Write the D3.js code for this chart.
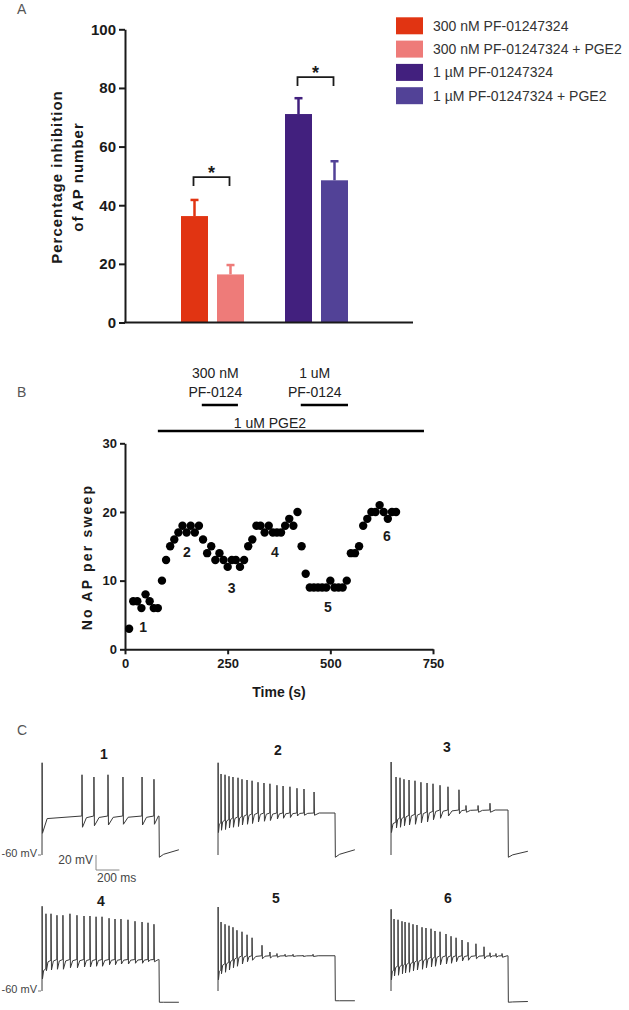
<!DOCTYPE html>
<html><head><meta charset="utf-8">
<script src="https://cdn.jsdelivr.net/npm/d3@7"></script>
<style>
body{margin:0;background:#fff}
svg{display:block}
text{font-family:"Liberation Sans",Arial,Helvetica,sans-serif}
</style>
</head><body>
<svg id="c" width="629" height="1010"></svg>
<script>
// ---------------- DATA ----------------
// Panel A
const barCategories = ["300 nM PF-01247324","300 nM PF-01247324 + PGE2","1 µM PF-01247324","1 µM PF-01247324 + PGE2"];
const barGroupOf = ["300 nM","300 nM","1 µM","1 µM"];
const barSubOf = ["drug","drug+PGE2","drug","drug+PGE2"];
const barGroups = ["300 nM","1 µM"];
const barValues = [36.3, 16.4, 71.1, 48.5];
const barErrors = [5.5, 3.2, 5.4, 6.5];
const barColors = ["#e13412","#ee7b79","#42207e","#524297"];
const barTicks = [0,20,40,60,80,100];
const sigGroups = ["300 nM","1 µM"];
const sigHeights = [49.6, 83.7];

// Panel B
const sweepTimes = [10,20,30,40,50,60,70,80,90,100,110,120,130,140,150,160,170,180,190,200,210,220,230,240,250,260,270,280,290,300,310,320,330,340,350,360,370,380,390,400,410,420,430,440,450,460,470,480,490,500,510,520,530,540,550,560,570,580,590,600,610,620,630,640,650,660];
const apCounts = [3,7,7,6,8,7,6,6,10,13,15,16,17,18,17,18,17,18,16,14,15,13,14,13,12,13,13,12,13,15,16,18,18,17,18,17,17,17,18,19,18,20,15,11,9,9,9,9,9,10,9,9,9,10,14,14,15,18,19,20,20,21,20,19,20,20];
const sweepTicks = [0,250,500,750];
const apTicks = [0,10,20,30];
const drugLabels = [["300 nM","PF-0124"],["1 uM","PF-0124"]];
const drugStart = [187, 428];
const drugEnd = [275, 543];
const drugLabelT = [220, 462];
const pgeLabel = "1 uM PGE2";
const pgeStart = 80, pgeEnd = 728, pgeLabelT = 353;
const pointLabels = ["1","2","3","4","5","6"];
const pointLabelT = [44, 151, 260, 365, 494, 638];
const pointLabelV = [3.2, 14.2, 8.9, 14.2, 6.2, 16.5];

// Panel C (times in ms after step onset, voltages in mV)
const traceNames = ["1","2","3","4","5","6"];
const traceSpikeTimes = [
  [342,444,564,692,855,957],
  [26,60,94,128,171,205,248,291,342,393,444,504,556,615,675,735,821],
  [43,77,111,154,205,256,308,359,419,487,581,641,744,846],
  [34,77,128,179,239,299,359,410,462,513,573,624,675,735,795,855,906,957],
  [26,60,94,128,162,205,248,291,376,444,504,573,641,726,812],
  [26,60,94,120,154,188,222,265,299,342,376,419,470,513,556,607,658,726,795,846,897,949]
];
const traceSpikePeaks = [
  [47,44,47,44,44,41],
  [48,47,45,44,43,41,40,39,37,36,35,33,32,31,29,28,24],
  [44,43,41,40,39,37,36,35,33,31,27,6,6,9],
  [43,43,41,41,43,41,40,40,39,39,37,36,36,35,33,32,31,29],
  [32,29,27,25,21,19,15,11,1,-8,-10,-11,-11,-12,-11],
  [36,35,33,32,31,29,28,25,24,23,20,19,16,13,11,8,5,3,-1,-9,-10,-10]
];
const traceTroughs = [
  [-23,-21,-20,-19,-20,-19],
  [-27,-26,-24,-23,-22,-20,-19,-18,-16,-15,-14,-12,-11,-10,-8,-7,-7],
  [-24,-23,-21,-20,-19,-17,-16,-13,-11,-8,-5,-3,-3,-3],
  [-33,-32,-31,-31,-29,-29,-28,-28,-27,-27,-25,-25,-24,-24,-23,-23,-21,-21],
  [-37,-35,-32,-29,-27,-24,-21,-19,-17,-16,-15,-14,-14,-14,-14],
  [-40,-39,-37,-36,-35,-33,-32,-31,-29,-28,-27,-25,-24,-23,-21,-20,-19,-17,-17,-15,-15,-15]
];
const traceInitPeak = [63,63,64,53,52,49];
const traceInitTrough = [-31,-30,-30,-44,-45,-45];
const tracePlateau = [-8,-4,0,-18,-13,-13];
const traceOffV = [-63,-63,-63,-75,-73,-75];
const traceTailV = [-53,-53,-55,-75,-73,-74];
const restingMV = -60;
const stepOffMs = 1000, traceEndMs = 1170;
const scaleBarMV = 20, scaleBarMs = 200;

// ---------------- DRAW ----------------
const svg = d3.select("#c");
const ink = "#1a1a1a";

function panelLabel(t, x, y){
  svg.append("text").attr("x",x).attr("y",y).attr("font-size",14).attr("fill","#555").text(t);
}
panelLabel("A",17,14);
panelLabel("B",17,397);
panelLabel("C",17,735);

// ===== Panel A =====
const yA = d3.scaleLinear().domain([0,100]).range([322.5,29.3]);
const gA = d3.scalePoint().domain(barGroups).range([212.5,316.5]);
const inner = d3.scaleBand().domain(["drug","drug+PGE2"]).range([-31.5,31.5]).paddingInner(0.25);
const bars = barValues.map((v,i)=>({v, e:barErrors[i], c:barColors[i], x:gA(barGroupOf[i])+inner(barSubOf[i])}));
const gBars = svg.append("g");
gBars.selectAll("rect").data(bars).join("rect")
  .attr("x",d=>d.x).attr("width",inner.bandwidth())
  .attr("y",d=>yA(d.v)).attr("height",d=>yA(0)-yA(d.v)).attr("fill",d=>d.c);
gBars.selectAll("line.err").data(bars).join("line").attr("class","err")
  .attr("x1",d=>d.x+inner.bandwidth()/2).attr("x2",d=>d.x+inner.bandwidth()/2)
  .attr("y1",d=>yA(d.v)).attr("y2",d=>yA(d.v+d.e)).attr("stroke",d=>d.c).attr("stroke-width",2.5);
gBars.selectAll("line.cap").data(bars).join("line").attr("class","cap")
  .attr("x1",d=>d.x+inner.bandwidth()/2-4).attr("x2",d=>d.x+inner.bandwidth()/2+4)
  .attr("y1",d=>yA(d.v+d.e)).attr("y2",d=>yA(d.v+d.e)).attr("stroke",d=>d.c).attr("stroke-width",2.5);

const axA = svg.append("g").attr("transform","translate(125,0)")
  .call(d3.axisLeft(yA).tickValues(barTicks).tickSize(6).tickSizeOuter(0).tickPadding(3));
axA.select(".domain").attr("stroke",ink).attr("stroke-width",2);
axA.selectAll(".tick line").attr("stroke",ink).attr("stroke-width",2);
axA.selectAll(".tick text").attr("font-size",15).attr("font-weight","bold").attr("fill",ink)
  .attr("font-family",'"Liberation Sans",Arial,sans-serif');
svg.append("line").attr("x1",124).attr("x2",413).attr("y1",yA(0)).attr("y2",yA(0)).attr("stroke",ink).attr("stroke-width",2);

const ylabA = svg.append("text").attr("transform","translate(57,177) rotate(-90)")
  .attr("text-anchor","middle").attr("font-size",15).attr("font-weight","bold").attr("letter-spacing",1).attr("fill",ink);
ylabA.append("tspan").attr("x",0).attr("dy","0.35em").text("Percentage inhibition");
ylabA.append("tspan").attr("x",0).attr("dy",21).text("of AP number");

// significance brackets
sigGroups.forEach((g,i)=>{
  const x1 = gA(g)+inner("drug")+inner.bandwidth()/2 - 1;
  const x2 = gA(g)+inner("drug+PGE2")+inner.bandwidth()/2 - 1;
  const y = yA(sigHeights[i]);
  svg.append("path").attr("d",`M${x1},${y+9}V${y}H${x2}V${y+9}`).attr("fill","none").attr("stroke",ink).attr("stroke-width",1.8);
  svg.append("text").attr("x",(x1+x2)/2).attr("y",y+2).attr("text-anchor","middle")
    .attr("font-size",18).attr("font-weight","bold").attr("fill",ink).text("*");
});

// legend
const leg = svg.append("g");
barCategories.forEach((c,i)=>{
  const cy = 25.8 + i*23.3;
  leg.append("rect").attr("x",396).attr("y",cy-8.5).attr("width",27).attr("height",17).attr("fill",barColors[i]);
  leg.append("text").attr("x",433).attr("y",cy).attr("dominant-baseline","central")
    .attr("font-size",14).attr("fill","#333").text(c);
});

// ===== Panel B =====
const xB = d3.scaleLinear().domain([0,750]).range([125,433]);
const yB = d3.scaleLinear().domain([0,30]).range([649.3,443.3]);
const axBx = svg.append("g").attr("transform",`translate(0,${yB(0)})`)
  .call(d3.axisBottom(xB).tickValues(sweepTicks).tickSize(5).tickSizeOuter(0).tickPadding(4));
const axBy = svg.append("g").attr("transform",`translate(${xB(0)},0)`)
  .call(d3.axisLeft(yB).tickValues(apTicks).tickSize(5).tickSizeOuter(0).tickPadding(3));
[axBx,axBy].forEach(a=>{
  a.select(".domain").attr("stroke",ink).attr("stroke-width",2);
  a.selectAll(".tick line").attr("stroke",ink).attr("stroke-width",2);
  a.selectAll(".tick text").attr("font-size",13).attr("font-weight","bold").attr("fill",ink)
    .attr("font-family",'"Liberation Sans",Arial,sans-serif');
});
svg.append("text").attr("x",279).attr("y",697).attr("text-anchor","middle").attr("font-size",14)
  .attr("font-weight","bold").attr("fill",ink).text("Time (s)");
svg.append("text").attr("transform","translate(87,557) rotate(-90)").attr("text-anchor","middle")
  .attr("dominant-baseline","central").attr("font-size",14).attr("font-weight","bold")
  .attr("letter-spacing",2.2).attr("fill",ink).text("No AP per sweep");

svg.append("g").selectAll("circle").data(sweepTimes).join("circle")
  .attr("cx",d=>xB(d)).attr("cy",(d,i)=>yB(apCounts[i])).attr("r",4.2).attr("fill","#000");

svg.append("g").selectAll("text").data(pointLabels).join("text")
  .attr("x",(d,i)=>xB(pointLabelT[i])).attr("y",(d,i)=>yB(pointLabelV[i]))
  .attr("text-anchor","middle").attr("dominant-baseline","central")
  .attr("font-size",14).attr("font-weight","bold").attr("fill",ink).text(d=>d);

drugLabels.forEach((lab,i)=>{
  svg.append("line").attr("x1",xB(drugStart[i])).attr("x2",xB(drugEnd[i])).attr("y1",405).attr("y2",405)
    .attr("stroke","#000").attr("stroke-width",2.5);
  lab.forEach((s,j)=>{
    svg.append("text").attr("x",xB(drugLabelT[i])).attr("y",373+j*19).attr("dominant-baseline","central")
      .attr("text-anchor","middle").attr("font-size",14).attr("fill","#222").text(s);
  });
});
svg.append("line").attr("x1",xB(pgeStart)).attr("x2",xB(pgeEnd)).attr("y1",431).attr("y2",431)
  .attr("stroke","#000").attr("stroke-width",2.5);
svg.append("text").attr("x",xB(pgeLabelT)).attr("y",428).attr("text-anchor","middle")
  .attr("font-size",14).attr("fill","#222").text(pgeLabel);

// ===== Panel C =====
const colX = [42,218,391];
const rowBase = [855,991];
const labelPos = [[104,754],[278,750],[447,747],[101,901],[276,898],[448,898]];
const pxPerMs = 0.117, pxPerMV = 0.75;

function tracePoints(i){
  const pts = [[0,restingMV],[1,traceInitPeak[i]],[4,traceInitTrough[i]]];
  let prevT = 4, prevV = traceInitTrough[i];
  const plat = tracePlateau[i];
  traceSpikeTimes[i].forEach((t,k)=>{
    const gap = t-1.5-prevT;
    const pre = Math.min(prevV+12+gap*0.05, plat);
    pts.push([prevT+Math.min(gap*0.35,40), prevV+(pre-prevV)*0.85]);
    pts.push([t-1.5, pre]);
    pts.push([t, traceSpikePeaks[i][k]]);
    pts.push([t+4, traceTroughs[i][k]]);
    prevT = t+4; prevV = traceTroughs[i][k];
  });
  pts.push([Math.min(prevT+40, stepOffMs-5), plat]);
  pts.push([stepOffMs, plat]);
  pts.push([stepOffMs+3, traceOffV[i]]);
  pts.push([stepOffMs+40, traceOffV[i]+(traceTailV[i]-traceOffV[i])*0.4]);
  pts.push([traceEndMs, traceTailV[i]]);
  return pts;
}

traceNames.forEach((name,i)=>{
  const x0 = colX[i%3], base = rowBase[Math.floor(i/3)];
  const tx = d3.scaleLinear().domain([0,1000]).range([x0, x0+1000*pxPerMs]);
  const vy = d3.scaleLinear().domain([restingMV,0]).range([base, base-60*pxPerMV]);
  const line = d3.line().x(d=>tx(d[0])).y(d=>vy(d[1]));
  svg.append("path").attr("d",line(tracePoints(i))).attr("fill","none")
    .attr("stroke","#3a3a3a").attr("stroke-width",1).attr("stroke-linejoin","round");
  svg.append("text").attr("x",labelPos[i][0]).attr("y",labelPos[i][1]).attr("text-anchor","middle")
    .attr("dominant-baseline","central").attr("font-size",14).attr("font-weight","bold").attr("fill",ink).text(name);
});

// -60 mV labels
rowBase.forEach(b=>{
  svg.append("text").attr("x",37).attr("y",b-2).attr("text-anchor","end").attr("dominant-baseline","central")
    .attr("font-size",11).attr("fill","#444").text(restingMV+" mV");
  svg.append("line").attr("x1",38).attr("x2",41).attr("y1",b).attr("y2",b).attr("stroke","#777").attr("stroke-width",1);
});

// scale bar
const sbX = 96, sbY = 855;
svg.append("path").attr("d",`M${sbX},${sbY}V${sbY+scaleBarMV*pxPerMV}H${sbX+scaleBarMs*pxPerMs}`)
  .attr("fill","none").attr("stroke","#888").attr("stroke-width",1);
svg.append("text").attr("x",93).attr("y",860).attr("text-anchor","end").attr("dominant-baseline","central")
  .attr("font-size",12).attr("fill","#444").text(scaleBarMV+" mV");
svg.append("text").attr("x",97).attr("y",878).attr("dominant-baseline","central")
  .attr("font-size",12).attr("fill","#444").text(scaleBarMs+" ms");
</script>
</body></html>
